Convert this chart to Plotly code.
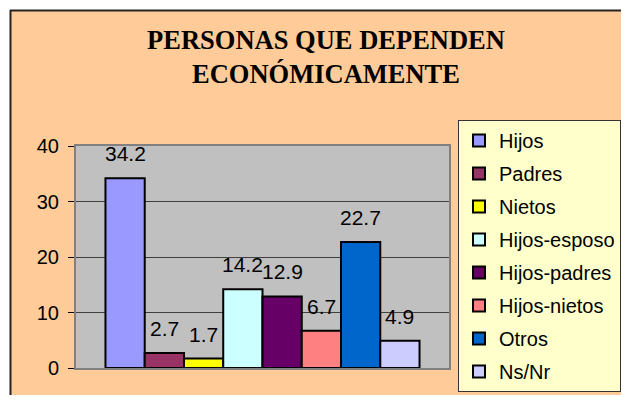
import plotly.graph_objects as go

# Data
categorias = ["Hijos", "Padres", "Nietos", "Hijos-esposo", "Hijos-padres",
              "Hijos-nietos", "Otros", "Ns/Nr"]
valores = [34.2, 2.7, 1.7, 14.2, 12.9, 6.7, 22.7, 4.9]
colores = ["#9999FF", "#993366", "#FFFF00", "#CCFFFF", "#660066",
           "#FF8080", "#0066CC", "#CCCCFF"]
y_ticks = [0, 10, 20, 30, 40]

# page body keeps its default 8px margin: keep the figure inside the window
OFF = 8
W, H = 629 - 2 * OFF, 403 - 2 * OFF
L, T = 76 - OFF, 146 - OFF
R, B = W - (449 - OFF), H - (368 - OFF)
pw, ph = W - L - R, H - T - B
BARGAP = 0.158


def px_x(x):
    # page pixel -> paper coordinate
    return (x - OFF - L) / pw


def px_y(y):
    return (H - B - (y - OFF)) / ph


fig = go.Figure()
for i, (cat, val, col) in enumerate(zip(categorias, valores, colores)):
    fig.add_trace(go.Bar(
        x=["total"], y=[val], name=cat, legendgroup=cat,
        marker=dict(color=col, line=dict(color="black", width=2)),
    ))
    # data labels above each bar
    fig.add_annotation(
        x="total", y=val, text=str(val), showarrow=False,
        xshift=(i - 3.5) * (pw * (1 - BARGAP) / 8),
        yanchor="bottom", yshift=11,
        font=dict(family="Arial, Liberation Sans", size=21, color="black"),
    )

# outer frame (white strips + dark border)
shapes = [
    dict(type="rect", xref="paper", yref="paper", layer="below",
         x0=px_x(0), x1=px_x(640), y0=px_y(0), y1=px_y(10),
         fillcolor="white", line=dict(width=0)),
    dict(type="rect", xref="paper", yref="paper", layer="below",
         x0=px_x(0), x1=px_x(10), y0=px_y(0), y1=px_y(410),
         fillcolor="white", line=dict(width=0)),
    dict(type="line", xref="paper", yref="paper", layer="below",
         x0=px_x(10), x1=px_x(640), y0=px_y(10.5), y1=px_y(10.5),
         line=dict(color="#222222", width=2)),
    dict(type="line", xref="paper", yref="paper", layer="below",
         x0=px_x(10.5), x1=px_x(10.5), y0=px_y(10), y1=px_y(410),
         line=dict(color="#222222", width=2)),
]

fig.update_layout(
    width=W, height=H,
    margin=dict(l=L, r=R, t=T, b=B, autoexpand=False),
    paper_bgcolor="#FFCC99",
    plot_bgcolor="#C0C0C0",
    barmode="group", bargap=BARGAP, bargroupgap=0,
    shapes=shapes,
    title=dict(
        text="PERSONAS QUE DEPENDEN<br>ECONÓMICAMENTE",
        x=(326 - OFF) / W, xanchor="center", xref="container",
        y=1 - 41 / H, yanchor="top", yref="container",
        font=dict(family="Times New Roman, Liberation Serif", size=26.5,
                  color="black", weight="bold"),
    ),
    xaxis=dict(showticklabels=False, ticks="", showgrid=False,
               showline=True, linecolor="#808080", linewidth=2, mirror=True),
    yaxis=dict(range=[0, 40], tickvals=y_ticks, ticks="outside", ticklen=6,
               tickcolor="black", tickwidth=1, showgrid=True,
               gridcolor="#404040", gridwidth=1, zeroline=False,
               showline=True, linecolor="#808080", linewidth=2, mirror=True,
               ticklabelstandoff=5,
               tickfont=dict(family="Arial, Liberation Sans", size=20,
                             color="black")),
    legend=dict(
        xref="container", yref="container",
        x=(458 - OFF) / W, y=1 - (120 - OFF) / H,
        xanchor="left", yanchor="top",
        bgcolor="#FFFFCC", bordercolor="#333333", borderwidth=1,
        tracegroupgap=4, itemwidth=30, maxheight=300,
        font=dict(family="Arial, Liberation Sans", size=20, color="black"),
    ),
    showlegend=True,
)

fig.write_html("out.html")
